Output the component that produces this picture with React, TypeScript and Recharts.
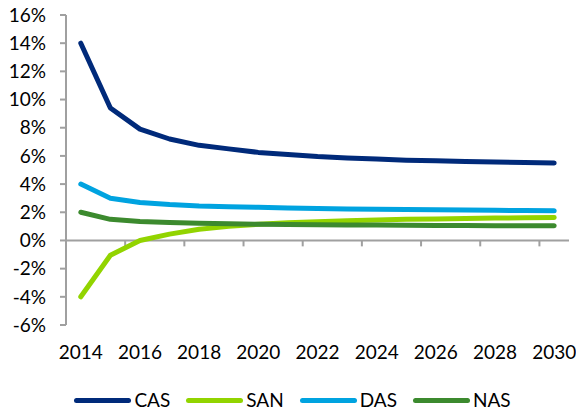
import React from 'react';
import { LineChart, Line, XAxis, YAxis, ReferenceLine, Legend } from 'recharts';

const years = [2014, 2015, 2016, 2017, 2018, 2019, 2020, 2021, 2022, 2023, 2024, 2025, 2026, 2027, 2028, 2029, 2030];
const cas = [14.0, 9.4, 7.9, 7.2, 6.75, 6.5, 6.25, 6.1, 5.95, 5.85, 5.78, 5.7, 5.65, 5.6, 5.56, 5.53, 5.5];
const san = [-4.0, -1.05, 0.0, 0.45, 0.8, 1.0, 1.15, 1.25, 1.33, 1.4, 1.45, 1.5, 1.53, 1.56, 1.59, 1.61, 1.63];
const das = [4.0, 3.0, 2.7, 2.55, 2.45, 2.4, 2.35, 2.3, 2.27, 2.24, 2.22, 2.2, 2.18, 2.16, 2.14, 2.12, 2.1];
const nas = [2.0, 1.5, 1.35, 1.27, 1.22, 1.18, 1.15, 1.13, 1.12, 1.1, 1.09, 1.08, 1.07, 1.06, 1.05, 1.05, 1.04];

const yTicks = [-6, -4, -2, 0, 2, 4, 6, 8, 10, 12, 14, 16];
const xTicks = [2014, 2016, 2018, 2020, 2022, 2024, 2026, 2028, 2030];
// tick marks sit between categories on the x axis
const xTickMarks = [2015.5, 2017.5, 2019.5, 2021.5, 2023.5, 2025.5, 2027.5, 2029.5];

const seriesInfo = [
  { key: 'CAS', values: cas, color: '#002A7A' },
  { key: 'SAN', values: san, color: '#92D400' },
  { key: 'DAS', values: das, color: '#00A3E0' },
  { key: 'NAS', values: nas, color: '#3C8A2E' },
];

const data = years.map((year, i) => {
  const row: { [key: string]: number } = { year };
  seriesInfo.forEach(s => { row[s.key] = s.values[i]; });
  return row;
});

const FONT = 'Lato, "Open Sans", sans-serif';
const AXIS = '#A0A0A0';

// legend keeps the series order (recharts would sort it by name)
const CustomLegend: React.FC = () => (
  <div style={{ height: '47px', display: 'flex', alignItems: 'flex-end', justifyContent: 'center', gap: '16px', paddingLeft: '16px', paddingBottom: '1px', boxSizing: 'border-box' }}>
    {seriesInfo.map(s => (
      <div key={s.key} style={{ display: 'flex', alignItems: 'center', gap: '3px', height: '22px' }}>
        <div style={{ width: '57px', height: '5px', borderRadius: '3px', background: s.color }}></div>
        <span style={{ fontFamily: FONT, fontSize: '19px', color: '#000', lineHeight: '22px' }}>{s.key}</span>
      </div>
    ))}
  </div>
);

export default function App() {
  return (
    <div style={{ position: 'absolute', left: 0, top: 0, width: 576, height: 412, background: '#fff' }}>
      <LineChart width={576} height={412} data={data} margin={{ top: 15, right: 7, left: 0, bottom: 0 }}>
        <XAxis
          dataKey="year"
          type="number"
          domain={[2013.5, 2030.5]}
          ticks={xTicks}
          axisLine={false}
          tickLine={false}
          tickSize={0}
          tickMargin={21}
          height={40}
          tick={{ fontFamily: FONT, fontSize: 19, fill: '#000' }}
        />
        <YAxis
          domain={[-6, 16]}
          ticks={yTicks}
          width={66}
          tickFormatter={(v: number) => `${v}%`}
          axisLine={{ stroke: AXIS, strokeWidth: 2 }}
          tickLine={{ stroke: AXIS, strokeWidth: 2 }}
          tickSize={6}
          tickMargin={14}
          tick={{ fontFamily: FONT, fontSize: 19, fill: '#000' }}
        />
        <ReferenceLine y={0} stroke={AXIS} strokeWidth={2} />
        {xTickMarks.map(t => (
          <ReferenceLine key={t} segment={[{ x: t, y: 0 }, { x: t, y: -0.42 }]} stroke={AXIS} strokeWidth={2} />
        ))}
        {seriesInfo.map(s => (
          <Line
            key={s.key}
            type="linear"
            dataKey={s.key}
            name={s.key}
            stroke={s.color}
            strokeWidth={5}
            strokeLinecap="round"
            strokeLinejoin="round"
            dot={false}
            activeDot={false}
            isAnimationActive={false}
          />
        ))}
        <Legend verticalAlign="bottom" height={47} content={<CustomLegend />} />
      </LineChart>
    </div>
  );
}
